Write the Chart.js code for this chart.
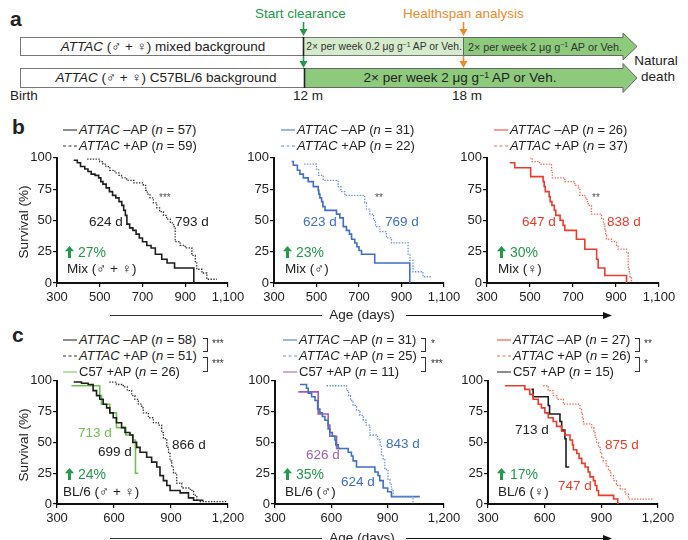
<!DOCTYPE html>
<html>
<head>
<meta charset="utf-8">
<script src="https://cdn.jsdelivr.net/npm/chart.js@4.4.1/dist/chart.umd.min.js"></script>
<style>
  body { margin: 0; background: #fff; }
  #page { position: relative; width: 688px; height: 540px; overflow: hidden;
          font-family: "Liberation Sans", Arial, sans-serif; color: #222; }
  #page canvas { position: absolute; }
  .t { position: absolute; white-space: nowrap; line-height: 1; transform: translateY(-50%); }
  .c { transform: translate(-50%, -50%); }
  .br { position: absolute; border: 1.2px solid #333; border-left: none; width: 4px; }
  .smp { display: inline-block; width: 14px; vertical-align: middle; margin-right: 2px; }
  i { font-style: italic; }
  sup { font-size: 0.65em; vertical-align: 0.5em; line-height: 0; }
</style>
</head>
<body>
<div id="page">
  <svg width="688" height="110" style="position:absolute;left:0;top:0">
    <rect x="20.5" y="37.5" width="283" height="18" fill="#fff" stroke="#777"/>
    <rect x="303.5" y="37.5" width="160" height="18" fill="#d4ebcc" stroke="#777"/>
    <polygon points="463.5,37.5 623,37.5 623,33 637,46.5 623,60 623,55.5 463.5,55.5" fill="#8dca7c" stroke="#666"/>
    <line x1="303.5" y1="37" x2="303.5" y2="56" stroke="#222" stroke-width="1.6"/>
    <rect x="20.5" y="68.5" width="284" height="19" fill="#fff" stroke="#777"/>
    <polygon points="304.5,68.5 623,68.5 623,63.5 637,78 623,92.5 623,87.5 304.5,87.5" fill="#8dca7c" stroke="#666"/>
    <line x1="304.5" y1="68" x2="304.5" y2="88" stroke="#222" stroke-width="1.6"/>
    <line x1="303.5" y1="22" x2="303.5" y2="30" stroke="#23994a" stroke-width="1.6"/>
    <polygon points="299.5,29 307.5,29 303.5,36" fill="#23994a"/>
    <line x1="303.5" y1="56" x2="303.5" y2="62" stroke="#23994a" stroke-width="1.6"/>
    <polygon points="299.5,61 307.5,61 303.5,68" fill="#23994a"/>
    <line x1="463.5" y1="22" x2="463.5" y2="30" stroke="#ef8a2a" stroke-width="1.6"/>
    <polygon points="459.5,29 467.5,29 463.5,36" fill="#ef8a2a"/>
    <line x1="463.5" y1="56" x2="463.5" y2="62" stroke="#ef8a2a" stroke-width="1.6"/>
    <polygon points="459.5,61 467.5,61 463.5,68" fill="#ef8a2a"/>
  </svg>
</div>

<script>
// ----- axis ticks -----
const yTicks = [0, 25, 50, 75, 100];
const bTicksX = [300, 500, 700, 900, 1100];
const cTicksX = [300, 600, 900, 1200];

// ----- b: mixed background (days, survival %) -----
const bMixMinusDays = [378, 395, 410, 430, 445, 460, 478, 495, 505, 515, 530, 545, 560, 575, 590, 603, 612, 620, 627, 640, 655, 670, 685, 700, 720, 740, 760, 790, 815, 850, 940];
const bMixMinusSurv = [98, 96, 93, 91, 89, 87, 86, 84, 81, 79, 76, 73, 70, 68, 65, 62, 58, 54, 47, 44, 42, 39, 36, 33, 30, 28, 23, 19, 16, 12, 0];
const bMixPlusDays = [441, 500, 515, 529, 547, 571, 590, 602, 626, 660, 704, 715, 722, 735, 751, 767, 780, 798, 813, 830, 845, 853, 876, 900, 931, 947, 954, 978, 1001, 1048];
const bMixPlusSurv = [99, 97, 95, 93, 90, 88, 86, 84, 82, 80, 78, 74, 71, 68, 64, 60, 57, 54, 51, 48, 45, 33, 30, 28, 22, 17, 11, 8, 3, 3];

const bMaleMinusDays = [383, 391, 410, 422, 438, 461, 485, 508, 511, 516, 524, 530, 540, 594, 610, 626, 641, 655, 665, 680, 690, 700, 712, 774, 939];
const bMaleMinusSurv = [97, 94, 90, 87, 84, 81, 77, 74, 71, 68, 65, 61, 58, 55, 52, 45, 42, 39, 35, 32, 29, 26, 23, 16, 0];
const bMalePlusDays = [442, 500, 510, 532, 602, 615, 633, 727, 735, 751, 769, 778, 798, 829, 853, 931, 940, 954, 1001, 1040];
const bMalePlusSurv = [95, 91, 86, 82, 77, 73, 70, 64, 59, 55, 50, 45, 41, 36, 32, 23, 18, 9, 5, 5];

const bFemMinusDays = [406, 429, 503, 561, 566, 571, 589, 594, 602, 613, 620, 640, 654, 662, 716, 755, 810, 817, 848, 949];
const bFemMinusSurv = [96, 92, 85, 81, 77, 73, 69, 65, 62, 58, 54, 50, 46, 42, 35, 27, 19, 12, 6, 0];
const bFemPlusDays = [499, 510, 545, 600, 604, 662, 708, 724, 732, 755, 765, 771, 786, 833, 841, 848, 852, 856, 879, 903, 910, 949, 957, 962, 965, 972];
const bFemPlusSurv = [100, 97, 95, 89, 84, 81, 78, 76, 70, 68, 65, 62, 55, 51, 47, 42, 38, 35, 33, 30, 27, 24, 11, 8, 5, 0];

// ----- c: C57BL/6 background -----
const cAllMinusDays = [388, 429, 464, 490, 508, 525, 543, 561, 578, 596, 613, 640, 658, 684, 699, 719, 737, 772, 798, 825, 842, 860, 878, 895, 948, 992, 1019, 1071];
const cAllMinusSurv = [99, 98, 97, 92, 88, 85, 81, 78, 74, 70, 66, 62, 58, 56, 50, 46, 42, 38, 34, 30, 23, 19, 15, 11, 9, 5, 3, 3];
const cAllPlusDays = [575, 613, 649, 670, 693, 710, 728, 746, 754, 781, 807, 834, 851, 860, 878, 887, 895, 904, 913, 930, 957, 1001, 1019, 1036, 1054, 1190];
const cAllPlusSurv = [99, 97, 95, 92, 88, 85, 81, 78, 74, 70, 66, 64, 58, 53, 46, 41, 35, 30, 25, 17, 13, 11, 7, 3, 2, 2];
const cAllC57Days = [376, 525, 534, 578, 613, 662, 700, 713, 728];
const cAllC57Surv = [96, 88, 81, 74, 62, 56, 52, 25, 25];

const cMaleMinusDays = [433, 468, 477, 495, 513, 527, 539, 552, 566, 583, 592, 605, 619, 624, 637, 690, 707, 716, 734, 832, 849, 858, 876, 900, 920, 1071];
const cMaleMinusSurv = [97, 94, 90, 87, 84, 77, 74, 71, 68, 61, 58, 55, 52, 48, 45, 42, 39, 35, 30, 26, 23, 19, 13, 10, 6, 6];
const cMalePlusDays = [575, 681, 692, 702, 716, 734, 752, 770, 785, 805, 846, 860, 867, 876, 885, 902, 912, 920, 929, 1035];
const cMalePlusSurv = [96, 92, 88, 84, 80, 76, 72, 68, 64, 56, 52, 48, 40, 36, 28, 20, 16, 12, 6, 0];
const cMaleC57Days = [424, 530, 583, 592, 628, 650];
const cMaleC57Surv = [91, 73, 64, 55, 45, 45];

const cFemMinusDays = [389, 495, 521, 539, 566, 583, 601, 619, 645, 663, 690, 707, 734, 747, 752, 770, 782, 796, 814, 830, 840, 858, 867, 876, 885, 965, 987];
const cFemMinusSurv = [96, 93, 89, 85, 81, 78, 74, 70, 67, 63, 59, 56, 52, 48, 44, 41, 37, 33, 30, 26, 22, 19, 15, 11, 7, 4, 0];
const cFemPlusDays = [592, 619, 645, 665, 699, 787, 795, 800, 805, 849, 860, 867, 875, 885, 895, 902, 910, 925, 938, 950, 964, 980, 1000, 1026, 1044, 1177];
const cFemPlusSurv = [96, 92, 88, 85, 81, 77, 73, 69, 65, 62, 58, 54, 50, 46, 42, 38, 35, 31, 27, 23, 19, 15, 12, 8, 4, 4];
const cFemC57Days = [530, 539, 619, 626, 681, 690, 707, 713, 730];
const cFemC57Surv = [93, 87, 80, 73, 67, 60, 53, 30, 30];

const BLACK = '#1e1e1e', BLUE = '#3f6fc6', BLUE_LT = '#6a90d8', RED = '#ec3b2a', RED_LT = '#f06a58',
      GREEN = '#6cc14f', PURPLE = '#a35bb4', GREEN_TXT = '#23994a';
const FONT = '"Liberation Sans", Arial, sans-serif';
const page = document.getElementById('page');

function pts(days, surv) {
  return days.map((d, i) => ({ x: d, y: surv[i] }));
}

// Kaplan-Meier style: stay level until the next death, then drop
function curve(days, surv, color, dotted) {
  return {
    data: pts(days, surv),
    borderColor: color,
    borderWidth: dotted ? 1.3 : 1.6,
    borderDash: dotted ? [1.4, 1.4] : [],
    stepped: 'before',
    pointRadius: 0,
    fill: false
  };
}

const fmt = v => String(v).replace(/\B(?=(\d{3})+$)/g, ',');

// plot area given in page pixels: left, right, top, bottom
function survivalChart(left, right, top, bottom, xTicks, datasets) {
  const cv = document.createElement('canvas');
  cv.width = (right - left) + 50 + 20;
  cv.height = (bottom - top) + 8 + 22;
  cv.style.left = (left - 50) + 'px';
  cv.style.top = (top - 8) + 'px';
  page.appendChild(cv);
  const tickFont = { family: FONT, size: 13 };
  new Chart(cv, {
    type: 'line',
    data: { datasets: datasets },
    options: {
      responsive: false,
      animation: false,
      devicePixelRatio: 1,
      layout: { padding: { top: 8, right: 20, left: 0, bottom: 0 } },
      plugins: { legend: { display: false }, tooltip: { enabled: false } },
      scales: {
        x: {
          type: 'linear',
          min: xTicks[0],
          max: xTicks[xTicks.length - 1],
          afterBuildTicks: s => { s.ticks = xTicks.map(v => ({ value: v })); },
          afterFit: s => { s.height = 22; },
          ticks: { font: tickFont, color: '#222', padding: 3, maxRotation: 0, autoSkip: false, callback: fmt },
          grid: { drawOnChartArea: false, color: '#111', lineWidth: 1.2, tickLength: 4 },
          border: { color: '#111', width: 2 }
        },
        y: {
          min: 0,
          max: 100,
          afterBuildTicks: s => { s.ticks = yTicks.map(v => ({ value: v })); },
          afterFit: s => { s.width = 50; },
          ticks: { font: tickFont, color: '#222', padding: 1 },
          grid: { drawOnChartArea: false, color: '#111', lineWidth: 1.2, tickLength: 4 },
          border: { color: '#111', width: 2 }
        }
      }
    }
  });
}

// ----- panel b -----
survivalChart(57, 228, 157, 283, bTicksX, [
  curve(bMixPlusDays, bMixPlusSurv, '#333', true),
  curve(bMixMinusDays, bMixMinusSurv, BLACK, false)
]);
survivalChart(274, 444, 157, 283, bTicksX, [
  curve(bMalePlusDays, bMalePlusSurv, BLUE_LT, true),
  curve(bMaleMinusDays, bMaleMinusSurv, BLUE, false)
]);
survivalChart(487, 659, 157, 283, bTicksX, [
  curve(bFemPlusDays, bFemPlusSurv, RED_LT, true),
  curve(bFemMinusDays, bFemMinusSurv, RED, false)
]);

// ----- panel c -----
survivalChart(57, 228, 380, 504, cTicksX, [
  curve(cAllPlusDays, cAllPlusSurv, '#333', true),
  curve(cAllMinusDays, cAllMinusSurv, BLACK, false),
  curve(cAllC57Days, cAllC57Surv, GREEN, false)
]);
survivalChart(275, 444, 380, 504, cTicksX, [
  curve(cMalePlusDays, cMalePlusSurv, BLUE_LT, true),
  curve(cMaleMinusDays, cMaleMinusSurv, BLUE, false),
  curve(cMaleC57Days, cMaleC57Surv, PURPLE, false)
]);
survivalChart(488, 658, 380, 504, cTicksX, [
  curve(cFemPlusDays, cFemPlusSurv, RED_LT, true),
  curve(cFemMinusDays, cFemMinusSurv, RED, false),
  curve(cFemC57Days, cFemC57Surv, BLACK, false)
]);

// ----- text overlays -----
function label(x, y, html, css, centered) {
  const d = document.createElement('div');
  d.className = centered ? 't c' : 't';
  d.style.left = x + 'px';
  d.style.top = y + 'px';
  d.style.cssText += css || '';
  d.innerHTML = html;
  page.appendChild(d);
  return d;
}

function sample(color, dotted) {
  return '<span class="smp" style="border-top:1.6px ' + (dotted ? 'dashed' : 'solid') + ' ' + color + '"></span>';
}

function legendRow(x, y, color, dotted, html) {
  label(x, y, sample(color, dotted) + html, 'font-size:13px;');
}

function bracket(x, top, h) {
  const d = document.createElement('div');
  d.className = 'br';
  d.style.left = x + 'px';
  d.style.top = top + 'px';
  d.style.height = h + 'px';
  page.appendChild(d);
}

// thick green up arrow
const up = '<svg width="9" height="12" viewBox="0 0 9 12" style="vertical-align:-1px;margin-right:4px">' +
  '<path d="M4.5 0 L9 5.2 L6 5.2 L6 12 L3 12 L3 5.2 L0 5.2 Z" fill="#23994a"/></svg>';

// panel a
label(10, 18, 'a', 'font-size:21px;font-weight:bold;');
label(255, 14, 'Start clearance', 'font-size:13.5px;color:#23994a;');
label(403, 14, 'Healthspan analysis', 'font-size:13.5px;color:#ef8a2a;');
label(163, 46.5, '<i>ATTAC</i> (&#9794; + &#9792;) mixed background', 'font-size:13.5px;', true);
label(384, 46.5, '2&times; per week 0.2 &mu;g g<sup>&minus;1</sup> AP or Veh.', 'font-size:10.3px;color:#333;', true);
label(545, 46.5, '2&times; per week 2 &mu;g g<sup>&minus;1</sup> AP or Veh.', 'font-size:10.8px;color:#333;', true);
label(166, 78, '<i>ATTAC</i> (&#9794; + &#9792;) C57BL/6 background', 'font-size:13.5px;', true);
label(460, 78, '2&times; per week 2 &mu;g g<sup>&minus;1</sup> AP or Veh.', 'font-size:13.5px;', true);
label(656, 61, 'Natural', 'font-size:13.5px;', true);
label(658, 77, 'death', 'font-size:13.5px;', true);
label(10, 96, 'Birth', 'font-size:13.5px;');
label(293, 96, '12 m', 'font-size:13.5px;');
label(452, 96, '18 m', 'font-size:13.5px;');

// panel b
label(12, 126, 'b', 'font-size:21px;font-weight:bold;');
legendRow(63, 129, BLACK, false, '<i>ATTAC</i> &ndash;AP (<i>n</i> = 57)');
legendRow(63, 145, '#333', true, '<i>ATTAC</i> +AP (<i>n</i> = 59)');
legendRow(281, 129, BLUE, false, '<i>ATTAC</i> &ndash;AP (<i>n</i> = 31)');
legendRow(281, 145, BLUE_LT, true, '<i>ATTAC</i> +AP (<i>n</i> = 22)');
legendRow(494, 129, RED, false, '<i>ATTAC</i> &ndash;AP (<i>n</i> = 26)');
legendRow(494, 145, RED_LT, true, '<i>ATTAC</i> +AP (<i>n</i> = 37)');

label(24, 222, 'Survival (%)', 'font-size:13.5px;transform:translate(-50%,-50%) rotate(-90deg);');
label(159, 198, '***', 'font-size:10px;color:#555;');
label(375, 198, '**', 'font-size:10px;color:#555;');
label(592, 198, '**', 'font-size:10px;color:#555;');
label(89, 222, '624 d', 'font-size:13.5px;');
label(175, 222, '793 d', 'font-size:13.5px;');
label(303, 222, '623 d', 'font-size:13.5px;color:' + BLUE + ';');
label(385, 222, '769 d', 'font-size:13.5px;color:' + BLUE + ';');
label(522, 222, '647 d', 'font-size:13.5px;color:' + RED + ';');
label(607, 222, '838 d', 'font-size:13.5px;color:' + RED + ';');
label(65, 252, up + '27%', 'font-size:14px;color:' + GREEN_TXT + ';');
label(283, 252, up + '23%', 'font-size:14px;color:' + GREEN_TXT + ';');
label(497, 252, up + '30%', 'font-size:14px;color:' + GREEN_TXT + ';');
label(67, 269, 'Mix (&#9794; + &#9792;)', 'font-size:13.5px;');
label(285, 269, 'Mix (&#9794;)', 'font-size:13.5px;');
label(498, 269, 'Mix (&#9792;)', 'font-size:13.5px;');

// panel c
label(12, 334, 'c', 'font-size:21px;font-weight:bold;');
legendRow(63, 339, BLACK, false, '<i>ATTAC</i> &ndash;AP (<i>n</i> = 58)');
legendRow(63, 355, '#333', true, '<i>ATTAC</i> +AP (<i>n</i> = 51)');
legendRow(63, 371, GREEN, false, 'C57 +AP (<i>n</i> = 26)');
legendRow(283, 339, BLUE, false, '<i>ATTAC</i> &ndash;AP (<i>n</i> = 31)');
legendRow(283, 355, BLUE_LT, true, '<i>ATTAC</i> +AP (<i>n</i> = 25)');
legendRow(283, 371, PURPLE, false, 'C57 +AP (<i>n</i> = 11)');
legendRow(497, 339, RED, false, '<i>ATTAC</i> &ndash;AP (<i>n</i> = 27)');
legendRow(497, 355, RED_LT, true, '<i>ATTAC</i> +AP (<i>n</i> = 26)');
legendRow(497, 371, BLACK, false, 'C57 +AP (<i>n</i> = 15)');

bracket(203, 338, 12);
bracket(203, 357, 13);
label(212, 344, '***', 'font-size:10px;color:#333;');
label(212, 364, '***', 'font-size:10px;color:#333;');
bracket(421, 338, 12);
bracket(421, 357, 13);
label(431, 344, '*', 'font-size:10px;color:#333;');
label(431, 364, '***', 'font-size:10px;color:#333;');
bracket(635, 338, 12);
bracket(635, 357, 13);
label(644, 344, '**', 'font-size:10px;color:#333;');
label(644, 364, '*', 'font-size:10px;color:#333;');

label(24, 445, 'Survival (%)', 'font-size:13.5px;transform:translate(-50%,-50%) rotate(-90deg);');
label(78, 433, '713 d', 'font-size:13.5px;color:' + GREEN + ';');
label(98, 452, '699 d', 'font-size:13.5px;');
label(172, 445, '866 d', 'font-size:13.5px;');
label(386, 444, '843 d', 'font-size:13.5px;color:' + BLUE + ';');
label(306, 455, '626 d', 'font-size:13.5px;color:' + PURPLE + ';');
label(341, 482, '624 d', 'font-size:13.5px;color:' + BLUE + ';');
label(515, 430, '713 d', 'font-size:13.5px;');
label(605, 445, '875 d', 'font-size:13.5px;color:' + RED + ';');
label(558, 486, '747 d', 'font-size:13.5px;color:' + RED + ';');
label(65, 474, up + '24%', 'font-size:14px;color:' + GREEN_TXT + ';');
label(283, 474, up + '35%', 'font-size:14px;color:' + GREEN_TXT + ';');
label(497, 474, up + '17%', 'font-size:14px;color:' + GREEN_TXT + ';');
label(63, 492, 'BL/6 (&#9794; + &#9792;)', 'font-size:13.5px;');
label(285, 492, 'BL/6 (&#9794;)', 'font-size:13.5px;');
label(498, 492, 'BL/6 (&#9792;)', 'font-size:13.5px;');

// Age (days) axis titles with long arrows
function ageAxis(y) {
  const svgNS = 'http://www.w3.org/2000/svg';
  const s = document.createElementNS(svgNS, 'svg');
  s.setAttribute('width', 688); s.setAttribute('height', 12);
  s.style.cssText = 'position:absolute;left:0;top:' + (y - 6) + 'px';
  s.innerHTML = '<line x1="110" y1="6.5" x2="322" y2="6.5" stroke="#333" stroke-width="1.2"/>' +
    '<line x1="406" y1="6.5" x2="606" y2="6.5" stroke="#111" stroke-width="1.2"/>' +
    '<polygon points="603,3 612,6.5 603,10" fill="#111"/>';
  page.appendChild(s);
  label(362, y, 'Age (days)', 'font-size:13.5px;', true);
}
ageAxis(315);
ageAxis(538);
</script>
</body>
</html>
